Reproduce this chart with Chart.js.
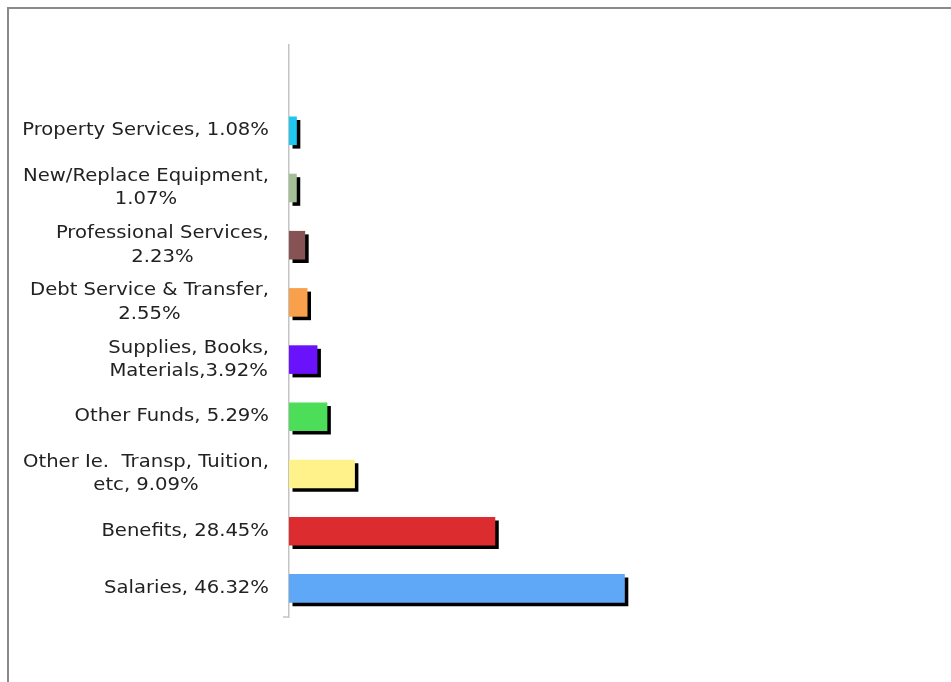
<!DOCTYPE html>
<html>
<head>
<meta charset="utf-8">
<script src="https://cdn.jsdelivr.net/npm/chart.js@4"></script>
<style>
html,body{margin:0;padding:0;background:#fff;overflow:hidden}
#frame{position:absolute;left:7px;top:7px;width:960px;height:700px;border-left:2px solid #8a8a8a;border-top:2px solid #8a8a8a}
#wrap{position:absolute;left:0;top:0;width:951px;height:682px}
</style>
</head>
<body>
<div id="frame"></div>
<div id="wrap"><canvas id="budgetChart" width="951" height="682"></canvas></div>
<script>

// budget split, top to bottom

const labelLines = [
['Property Services, 1.08%'],
['New/Replace Equipment,','1.07%'],
['Professional Services,','2.23%'],
['Debt Service & Transfer,','2.55%'],
['Supplies, Books,','Materials,3.92%'],
['Other Funds, 5.29%'],
['Other Ie.  Transp, Tuition,','etc, 9.09%'],
['Benefits, 28.45%'],
['Salaries, 46.32%']
]

const shares = [1.08,1.07,2.23,2.55,3.92,5.29,9.09,28.45,46.32]

const barColors = ['#1ec6f2','#a4bf96','#875254','#f8a04c','#6a12fb','#4cde58','#fff28a','#dc2c30','#5fa8f8']

// an empty slot sits above the first bar
const labels = [[''],...labelLines]
const values = [null,...shares]
const colors = ['#fff',...barColors]


// black drop shadow under each bar

const barShadow = {
id:'barShadow',
beforeDatasetsDraw(chart){
const ctx = chart.ctx
ctx.save()
ctx.shadowColor = '#000'
ctx.shadowOffsetX = 3.5
ctx.shadowOffsetY = 3.5
ctx.shadowBlur = 0
},
afterDatasetsDraw(chart){
chart.ctx.restore()
}
}


// category labels: right aligned blocks, lines centred inside each block

const sideLabels = {
id:'sideLabels',
afterDraw(chart){
const ctx = chart.ctx
const y = chart.scales.y
const right = chart.chartArea.left - 20
const lineH = 23.5
const stretch = 1.09
ctx.save()
ctx.font = '18px "DejaVu Sans", Verdana, sans-serif'
ctx.fillStyle = '#222'
ctx.textAlign = 'center'
ctx.textBaseline = 'middle'
labels.forEach((lines,i)=>{
const w = Math.max(...lines.map(l=>ctx.measureText(l).width)) * stretch
const cx = right - w/2
const cy = y.getPixelForValue(i)
const top = cy - (lines.length-1)*lineH/2
lines.forEach((l,j)=>{
ctx.save()
ctx.translate(cx,top + j*lineH)
ctx.scale(stretch,1)
ctx.fillText(l,0,0)
ctx.restore()
})
})
// short stub at the foot of the axis
ctx.strokeStyle = '#c4c4c4'
ctx.lineWidth = 1.5
ctx.beginPath()
ctx.moveTo(chart.chartArea.left - 6,y.bottom)
ctx.lineTo(chart.chartArea.left,y.bottom)
ctx.stroke()
ctx.restore()
}
}


const budgetChart = new Chart(

document.getElementById('budgetChart'),

{
type:'bar',

data:{
labels:labels.map(l=>l.join(' ')),
datasets:[{
data:values,
backgroundColor:colors,
borderWidth:0,
barPercentage:.5,
categoryPercentage:1
}]
},

options:{
indexAxis:'y',
responsive:false,
animation:false,
layout:{padding:{left:281,top:45,bottom:65,right:227}},
scales:{
x:{display:false,min:0,max:60},
y:{
ticks:{display:false},
grid:{display:false},
border:{display:true,color:'#c4c4c4',width:1.5}
}
},
plugins:{legend:{display:false},tooltip:{enabled:false}}
},

plugins:[barShadow,sideLabels]

}
)

</script>
</body>
</html>
